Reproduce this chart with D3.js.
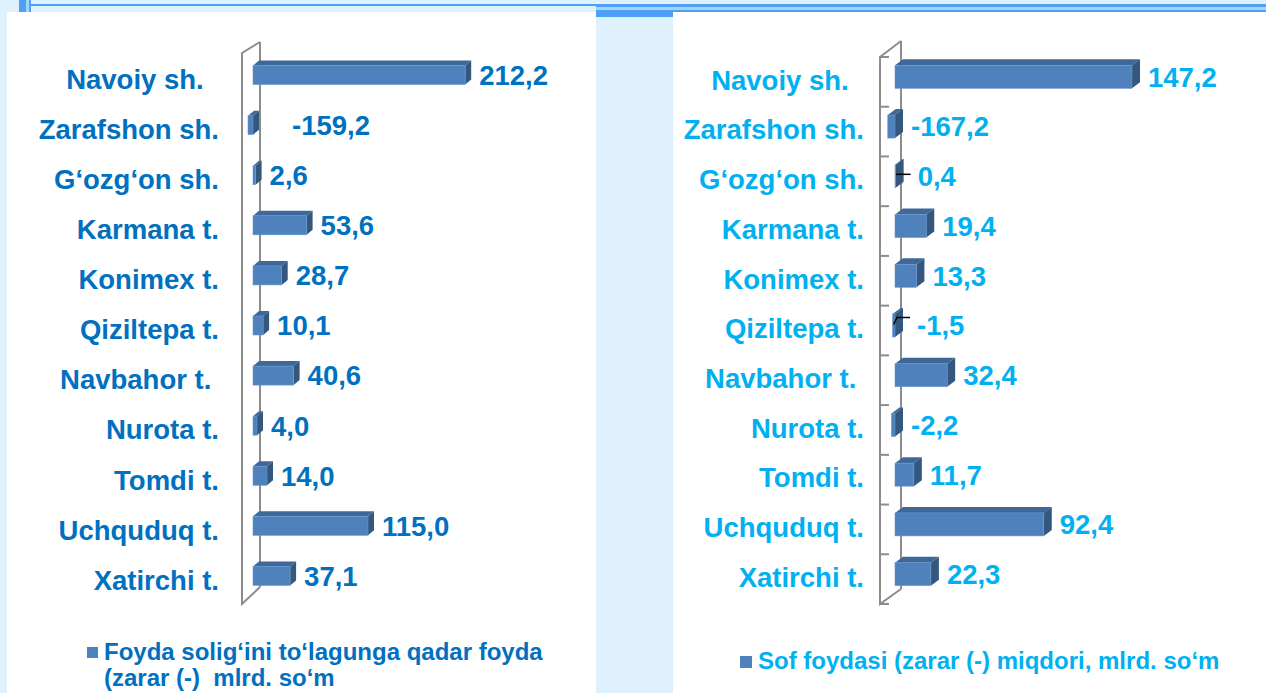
<!DOCTYPE html>
<html>
<head>
<meta charset="utf-8">
<script src="https://cdn.jsdelivr.net/npm/d3@7"></script>
<style>
  body { margin: 0; background: #dff1fd; overflow: hidden; }
  text { font-family: "Liberation Sans", Arial, sans-serif; font-weight: bold; white-space: pre; }
</style>
</head>
<body>
<script>
// category labels (trailing spaces as on the slide)
var categories = ["Navoiy sh.  ", "Zarafshon sh.", "G‘ozg‘on sh.", "Karmana t.", "Konimex t.",
    "Qiziltepa t.", "Navbahor t. ", "Nurota t.", "Tomdi t.", "Uchquduq t.", "Xatirchi t."];

// profit before tax (loss -), bln sum
var profitBeforeTax = [212.2, -159.2, 2.6, 53.6, 28.7, 10.1, 40.6, 4.0, 14.0, 115.0, 37.1];
// net profit (loss -), bln sum
var netProfit = [147.2, -167.2, 0.4, 19.4, 13.3, -1.5, 32.4, -2.2, 11.7, 92.4, 22.3];

var legendLeft = ["Foyda solig‘ini to‘lagunga qadar foyda", "(zarar (-)  mlrd. so‘m"];
var legendRight = ["Sof foydasi (zarar (-) miqdori, mlrd. so‘m"];

// labels that got a leader line in the right chart
var leaderCats = ["G‘ozg‘on sh.", "Qiziltepa t."];

var W = 1266, H = 693;
var fmt = d3.formatLocale({ decimal: ",", thousands: " ", grouping: [3], currency: ["", ""], minus: "-" }).format(".1f");

var svg = d3.select("body").append("svg")
    .attr("width", W)
    .attr("height", H);

// slide background pieces
svg.append("rect").attr("x", 0).attr("y", 0).attr("width", W).attr("height", H).attr("fill", "#dff1fd");
svg.append("rect").attr("x", 7).attr("y", 12).attr("width", 589).attr("height", H - 12).attr("fill", "#fff");
svg.append("rect").attr("x", 673).attr("y", 12).attr("width", W - 673).attr("height", H - 12).attr("fill", "#fff");
svg.append("rect").attr("x", 596).attr("y", 12).attr("width", 77).attr("height", 5).attr("fill", "#4da0f6");
// frame lines at the top
svg.append("rect").attr("x", 19).attr("y", 0).attr("width", 7).attr("height", 12).attr("fill", "#4da0f6");
svg.append("rect").attr("x", 26).attr("y", 0).attr("width", 3).attr("height", 12).attr("fill", "#a8d2fb");
svg.append("rect").attr("x", 29).attr("y", 0).attr("width", 2).attr("height", 12).attr("fill", "#4da0f6");
svg.append("rect").attr("x", 31).attr("y", 4).attr("width", W - 31).attr("height", 2).attr("fill", "#4da0f6");
svg.append("rect").attr("x", 596).attr("y", 7).attr("width", W - 596).attr("height", 3).attr("fill", "#a8d2fb");
svg.append("rect").attr("x", 596).attr("y", 5).attr("width", W - 596).attr("height", 2).attr("fill", "#4da0f6");
svg.append("rect").attr("x", 596).attr("y", 10).attr("width", W - 596).attr("height", 2).attr("fill", "#4da0f6");

function drawChart(cfg) {
    var g = svg.append("g");
    var x = cfg.x, y = cfg.y;
    var x0 = x(0), bw = y.bandwidth();

    // wall (3D category plane)
    var wall = cfg.wall;
    g.append("path")
        .attr("d", "M" + wall.bx + "," + wall.bTop + "L" + wall.fx + "," + wall.fTop + "L" + wall.fx + "," + wall.fBot +
            "L" + wall.bx + "," + wall.bBot + "M" + wall.bx + "," + wall.bTop + "L" + wall.bx + "," + wall.bBot)
        .attr("fill", "none")
        .attr("stroke", "#8c8c8c")
        .attr("stroke-width", 2);

    if (cfg.ticks) {
        var edges = categories.map(function (c) { return y(c); }).concat([y.range()[1]]);
        g.selectAll(".tick-mark")
            .data(edges)
            .enter().append("line")
            .attr("class", "tick-mark")
            .attr("x1", wall.fx).attr("x2", wall.fx + 9)
            .attr("y1", function (d) { return d; })
            .attr("y2", function (d) { return d; })
            .attr("stroke", "#8c8c8c")
            .attr("stroke-width", 2);
    }

    // category axis
    var axis = g.append("g")
        .attr("transform", "translate(" + cfg.labelX + "," + cfg.labelDy + ")")
        .call(d3.axisLeft(y).tickSize(0).tickPadding(0));
    axis.select(".domain").remove();
    axis.selectAll("text")
        .attr("fill", cfg.textColor)
        .style("font-size", "27.5px");

    var data = categories.map(function (c, i) { return { cat: c, v: cfg.values[i] }; });
    var dx = cfg.depth[0], dy = cfg.depth[1], h = cfg.barH;

    function cy(d) { return y(d.cat) + bw / 2 + cfg.barDy; }
    function xa(d) { return x(Math.min(d.v, 0)); }
    function xb(d) { return x(Math.max(d.v, 0)); }

    var bars = g.selectAll(".bar")
        .data(data)
        .enter().append("g")
        .attr("class", "bar");

    // top face
    bars.append("path")
        .attr("d", function (d) {
            var t = cy(d) - h / 2;
            return "M" + xa(d) + "," + t + "L" + (xa(d) + dx) + "," + (t + dy) + "L" + (xb(d) + dx) + "," + (t + dy) +
                "L" + xb(d) + "," + t + "Z";
        })
        .attr("fill", "#3e6899");
    // side face
    bars.append("path")
        .attr("d", function (d) {
            var t = cy(d) - h / 2;
            return "M" + xb(d) + "," + t + "L" + (xb(d) + dx) + "," + (t + dy) + "L" + (xb(d) + dx) + "," + (t + dy + h) +
                "L" + xb(d) + "," + (t + h) + "Z";
        })
        .attr("fill", "#33577f");
    // front face
    bars.append("rect")
        .attr("x", xa)
        .attr("y", function (d) { return cy(d) - h / 2; })
        .attr("width", function (d) { return xb(d) - xa(d); })
        .attr("height", h)
        .attr("fill", "#4f81bd")
        .attr("stroke", "#6d97cc")
        .attr("stroke-width", 0.6);

    function lx(d) {
        if (d.v < 0 && cfg.negLabelGap) return x0 + dx + cfg.negLabelGap;
        var extra = cfg.leaders && leaderCats.indexOf(d.cat) >= 0 ? 6 : 0;
        return xb(d) + dx + cfg.labelGap + extra;
    }

    // leader lines
    if (cfg.leaders) {
        g.selectAll(".leader")
            .data(data.filter(function (d) { return leaderCats.indexOf(d.cat) >= 0; }))
            .enter().append("path")
            .attr("class", "leader")
            .attr("d", function (d) {
                var c = cy(d);
                if (d.v >= 0) return "M" + (x0 + 1) + "," + (c - 2) + "H" + (lx(d) - 7);
                return "M" + (xa(d) + 1) + "," + (c - 1) + "L" + (x0 + 2) + "," + (c - 8) + "H" + (lx(d) - 7);
            })
            .attr("fill", "none")
            .attr("stroke", "#000")
            .attr("stroke-width", 1.5);
    }

    // value labels
    g.selectAll(".val")
        .data(data)
        .enter().append("text")
        .attr("class", "val")
        .attr("x", lx)
        .attr("y", cy)
        .attr("dy", "0.36em")
        .attr("fill", cfg.textColor)
        .style("font-size", "27.5px")
        .text(function (d) { return fmt(d.v); });

    // legend
    var lg = g.append("g").attr("transform", "translate(" + cfg.legend[0] + "," + cfg.legend[1] + ")");
    lg.append("rect")
        .attr("x", 0).attr("y", -13)
        .attr("width", cfg.legendBox).attr("height", cfg.legendBox)
        .attr("fill", "#4f81bd");
    lg.selectAll("text")
        .data(cfg.legendText)
        .enter().append("text")
        .attr("x", cfg.legendBox + 6)
        .attr("y", function (d, i) { return i * 26; })
        .attr("fill", cfg.textColor)
        .style("font-size", "24px")
        .text(function (d) { return d; });
}

// left chart: profit before tax
drawChart({
    values: profitBeforeTax,
    x: d3.scaleLinear().domain([-5, 215]).range([248, 468]).clamp(true),
    y: d3.scaleBand().domain(categories).range([53, 604]),
    wall: { fx: 242, bx: 260, fTop: 53, bTop: 42, fBot: 604, bBot: 587 },
    ticks: false,
    labelX: 219,
    labelDy: 2,
    barDy: -3,
    barH: 19,
    depth: [6, -5],
    labelGap: 8,
    negLabelGap: 33,
    textColor: "#0070c0",
    leaders: false,
    legend: [87, 660],
    legendBox: 11,
    legendText: legendLeft
});

// right chart: net profit
drawChart({
    values: netProfit,
    x: d3.scaleLinear().domain([-4.5, 150]).range([895 - 4.5 * 1.61, 895 + 150 * 1.61]).clamp(true),
    y: d3.scaleBand().domain(categories).range([57, 604]),
    wall: { fx: 880, bx: 901, fTop: 57, bTop: 41, fBot: 604, bBot: 589 },
    ticks: true,
    labelX: 864,
    labelDy: -1,
    barDy: -5,
    barH: 23,
    depth: [8, -6],
    labelGap: 8,
    textColor: "#00b0f0",
    leaders: true,
    legend: [740, 669],
    legendBox: 12,
    legendText: legendRight
});
</script>
</body>
</html>
